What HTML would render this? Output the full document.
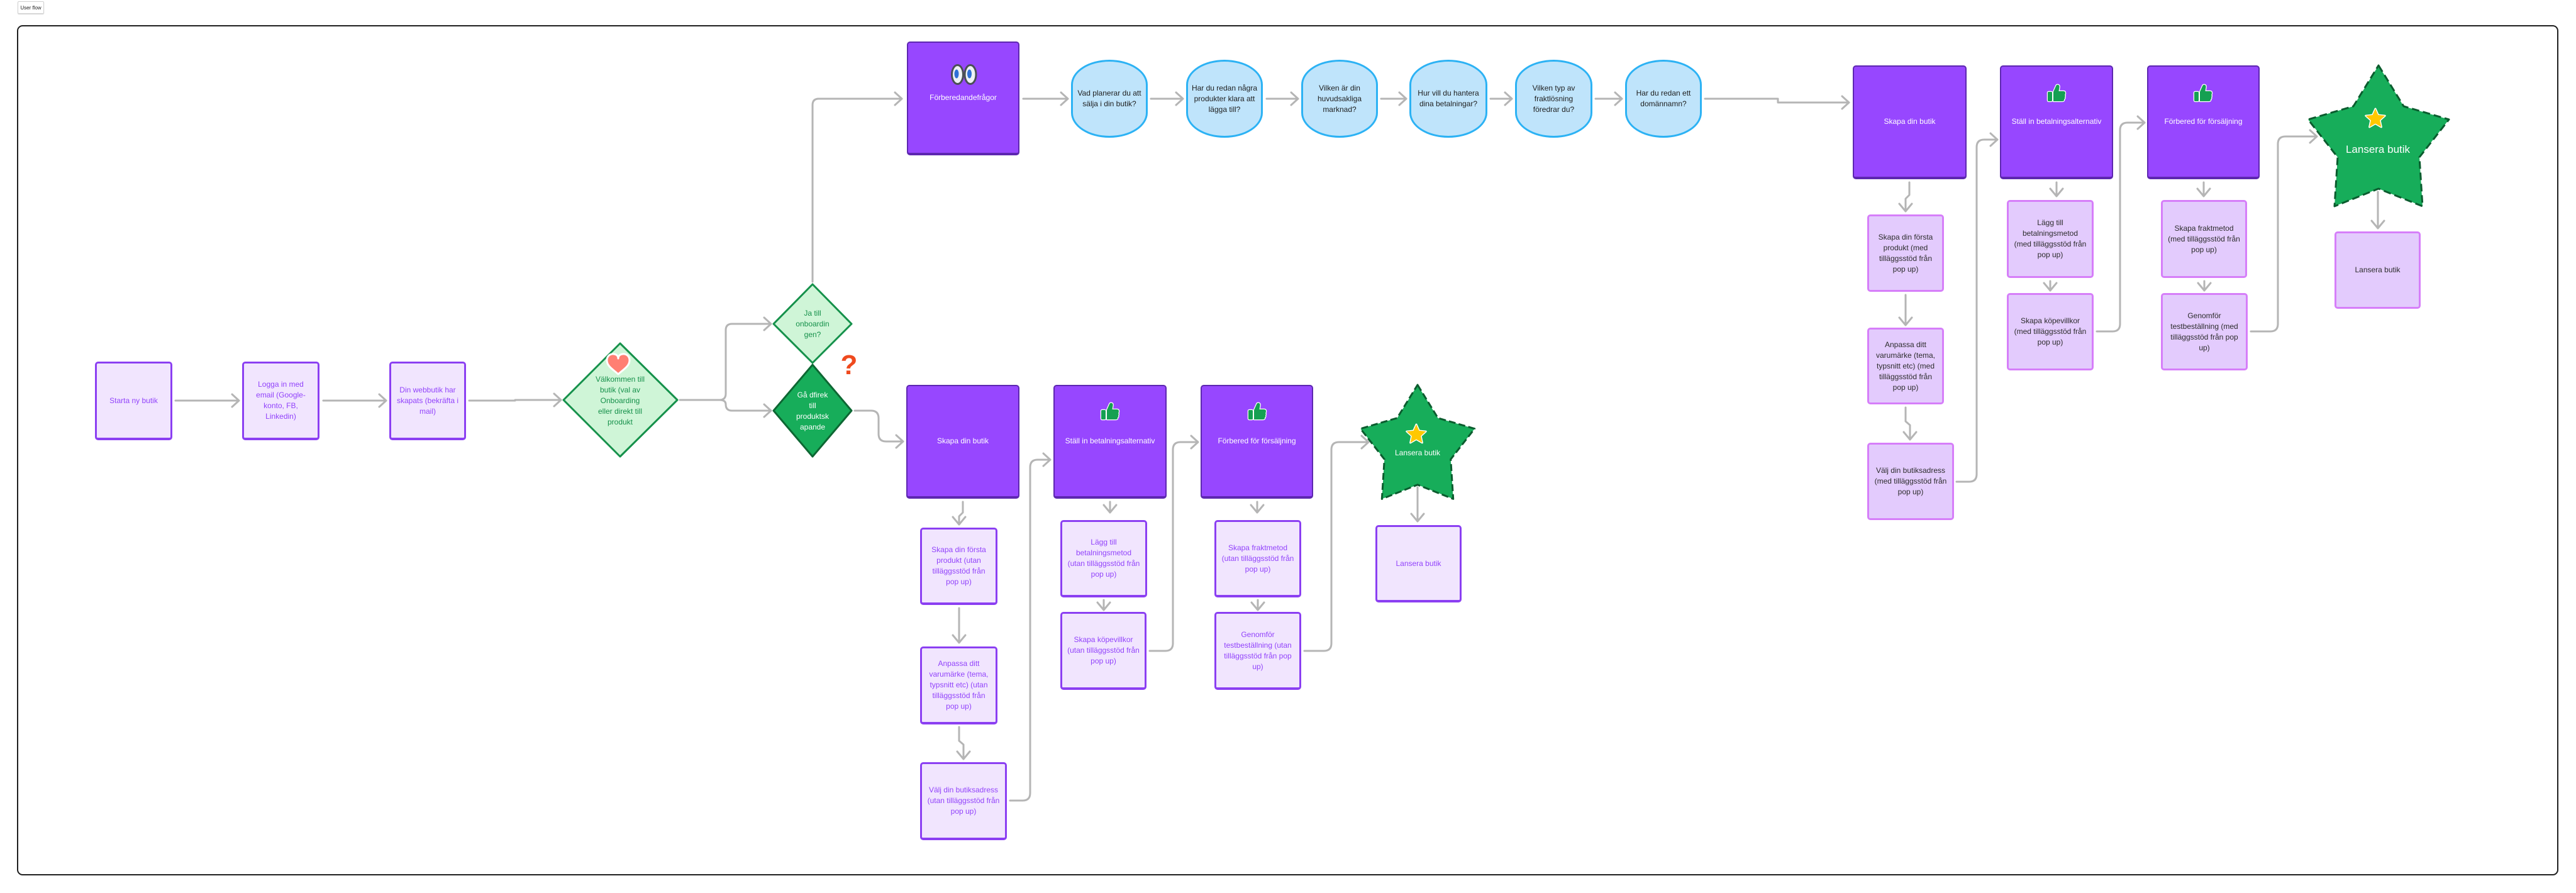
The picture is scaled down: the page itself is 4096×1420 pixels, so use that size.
<!DOCTYPE html>
<html><head><meta charset="utf-8">
<style>
html,body{margin:0;padding:0;background:#fff;}
body{width:4096px;height:1420px;position:relative;overflow:hidden;font-family:"Liberation Sans",sans-serif;}
svg{position:absolute;left:0;top:0;}
.n{position:absolute;box-sizing:border-box;display:flex;align-items:center;justify-content:center;text-align:center;font-size:12px;line-height:17px;}
.lp{background:#f1e5fe;border:3px solid #8b3ff2;border-bottom-width:4px;border-radius:5px;color:#9243fb;}
.dp{background:#9747ff;border:2px solid #5d27b0;border-bottom-width:4px;border-radius:5px;color:#fff;}
.pk{background:#e3cbfd;border:3px solid #d67ef9;border-radius:5px;color:#2c2c2c;}
.bb{background:#bfe4fb;border:3px solid #2cb2f4;border-radius:50%/32%;color:#1e1e1e;}
.t{position:absolute;display:flex;align-items:center;justify-content:center;text-align:center;font-size:12px;line-height:17px;}
.lbl{position:absolute;left:28px;top:2px;width:42px;height:20px;box-sizing:border-box;border:1px solid #d0d0d0;border-radius:2px;font-size:8px;display:flex;align-items:center;justify-content:center;color:#222;box-shadow:0 1px 1px rgba(0,0,0,.15);}
</style></head>
<body>
<div class="lbl">User flow</div>
<svg width="4096" height="1420" viewBox="0 0 4096 1420" xmlns="http://www.w3.org/2000/svg">
<rect x="28" y="41" width="4039" height="1350" rx="8" fill="none" stroke="#1e1e1e" stroke-width="2"/>

<!-- connectors -->
<g fill="none" stroke="#b5b5b5" stroke-width="3" stroke-linecap="round" stroke-linejoin="round">
<path d="M279,637 H380 M369,627 L380,637 L369,647"/>
<path d="M514,637 H614 M603,627 L614,637 L603,647"/>
<path d="M746,637 H819 V636 H892 M881,626 L892,636 L881,646"/>
<path d="M1081,636 H1144 Q1154,636 1154,626 V525 Q1154,515 1164,515 H1226 M1215,505 L1226,515 L1215,525"/>
<path d="M1144,636 Q1154,636 1154,643 Q1154,653 1164,653 H1226 M1215,643 L1226,653 L1215,663"/>
<path d="M1292,448 V167 Q1292,157 1302,157 H1434 M1423,147 L1434,157 L1423,167"/>
<path d="M1359,653 H1385 Q1397,653 1397,665 V690 Q1397,702 1409,702 H1436 M1425,692 L1436,702 L1425,712"/>
<path d="M1627,157 H1698 M1687,147 L1698,157 L1687,167"/>
<path d="M1830,157 H1881 M1870,147 L1881,157 L1870,167"/>
<path d="M2014,157 H2064 M2053,147 L2064,157 L2053,167"/>
<path d="M2196,157 H2236 M2225,147 L2236,157 L2225,167"/>
<path d="M2370,157 H2404 M2393,147 L2404,157 L2393,167"/>
<path d="M2537,157 H2579 M2568,147 L2579,157 L2568,167"/>
<path d="M2711,157 H2827 V163 H2940 M2929,153 L2940,163 L2929,173"/>
<path d="M3036,290 V310 L3030,316 V336 M3020,324 L3030,336 L3040,324"/>
<path d="M3030,469 V517 M3020,505 L3030,517 L3040,505"/>
<path d="M3030,648 V670 L3037,676 V699 M3027,687 L3037,699 L3047,687"/>
<path d="M3270,290 V312 M3260,300 L3270,312 L3280,300"/>
<path d="M3260,447 V462 M3250,450 L3260,462 L3270,450"/>
<path d="M3504,290 V312 M3494,300 L3504,312 L3514,300"/>
<path d="M3505,447 V462 M3495,450 L3505,462 L3515,450"/>
<path d="M3781,305 V363 M3771,351 L3781,363 L3791,351"/>
<path d="M3111,766 H3131 Q3143,766 3143,754 V234 Q3143,222 3155,222 H3176 M3165,212 L3176,222 L3165,232"/>
<path d="M3334,527 H3359 Q3371,527 3371,515 V207 Q3371,195 3383,195 H3410 M3399,185 L3410,195 L3399,205"/>
<path d="M3579,527 H3610 Q3622,527 3622,515 V229 Q3622,217 3634,217 H3684 M3673,207 L3684,217 L3673,227"/>
<path d="M1531,798 V815 L1525,821 V834 M1515,822 L1525,834 L1535,822"/>
<path d="M1525,967 V1022 M1515,1010 L1525,1022 L1535,1010"/>
<path d="M1525,1156 V1178 L1532,1184 V1207 M1522,1195 L1532,1207 L1542,1195"/>
<path d="M1765,798 V815 M1755,803 L1765,815 L1775,803"/>
<path d="M1755,954 V970 M1745,958 L1755,970 L1765,958"/>
<path d="M1999,798 V815 M1989,803 L1999,815 L2009,803"/>
<path d="M2000,954 V970 M1990,958 L2000,970 L2010,958"/>
<path d="M2254,775 V829 M2244,817 L2254,829 L2264,817"/>
<path d="M1606,1273 H1626 Q1638,1273 1638,1261 V743 Q1638,731 1650,731 H1670 M1659,721 L1670,731 L1659,741"/>
<path d="M1828,1035 H1853 Q1865,1035 1865,1023 V715 Q1865,703 1877,703 H1905 M1894,693 L1905,703 L1894,713"/>
<path d="M2074,1035 H2105 Q2117,1035 2117,1023 V715 Q2117,703 2129,703 H2176 M2165,693 L2176,703 L2165,713"/>
</g>

<!-- diamonds -->
<polygon points="986,546 1077,636 986,726 896,636" fill="#cff5d7" stroke="#15914b" stroke-width="3" stroke-linejoin="round"/>
<polygon points="1292,452 1354,515 1292,577 1230,515" fill="#cff5d7" stroke="#15914b" stroke-width="3" stroke-linejoin="round"/>
<polygon points="1292,580 1354,653 1292,726 1230,653" fill="#17ad5a" stroke="#0d6733" stroke-width="3" stroke-linejoin="round"/>

<!-- stars -->
<polygon points="3782,104 3822,169 3894,190 3847,250 3852,328 3782,300 3712,328 3717,250 3670,190 3742,169" fill="#17ad5a" stroke="#0b5c2e" stroke-width="3" stroke-dasharray="12 6" stroke-linejoin="round"/>
<polygon points="2254,612 2286.4,664.7 2344.7,681.7 2306.7,730.3 2310.7,793.4 2254,770.8 2197.3,793.4 2201.3,730.3 2163.3,681.7 2221.6,664.7" fill="#17ad5a" stroke="#0b5c2e" stroke-width="3" stroke-dasharray="11 5" stroke-linejoin="round"/>

<!-- heart -->
<path transform="translate(983,578)" d="M0,-8 C0,-18 -18,-18 -18,-5 C-18,5 -6,11 0,17 C6,11 18,5 18,-5 C18,-18 0,-18 0,-8Z" fill="#ff7f73" stroke="#fff" stroke-width="3" stroke-linejoin="round"/>
<!-- question mark -->
<text x="1350" y="595" text-anchor="middle" font-family="Liberation Sans, sans-serif" font-weight="bold" font-size="44" fill="#ef4a1e" stroke="#fff" stroke-width="3" paint-order="stroke" stroke-linejoin="round">?</text>

<!-- star emojis -->
<polygon transform="translate(3777,189)" points="0,-16 4.41,-6.07 15.22,-4.94 7.13,2.32 9.4,12.94 0,7.5 -9.4,12.94 -7.13,2.32 -15.22,-4.94 -4.41,-6.07" fill="#ffc800" stroke="#fff" stroke-width="3" stroke-linejoin="round" paint-order="stroke"/>
<polygon transform="translate(2252,691)" points="0,-16 4.41,-6.07 15.22,-4.94 7.13,2.32 9.4,12.94 0,7.5 -9.4,12.94 -7.13,2.32 -15.22,-4.94 -4.41,-6.07" fill="#ffc800" stroke="#fff" stroke-width="3" stroke-linejoin="round" paint-order="stroke"/>
</svg>

<!-- Row 1 -->
<div class="n lp" style="left:151px;top:575px;width:123px;height:125px;">Starta ny butik</div>
<div class="n lp" style="left:385px;top:575px;width:123px;height:125px;">Logga in med<br>email (Google-<br>konto, FB,<br>Linkedin)</div>
<div class="n lp" style="left:619px;top:575px;width:122px;height:125px;">Din webbutik har<br>skapats (bekräfta i<br>mail)</div>

<div class="t" style="left:906px;top:594px;width:160px;height:86px;color:#15904a;">Välkommen till<br>butik (val av<br>Onboarding<br>eller direkt till<br>produkt</div>
<div class="t" style="left:1242px;top:489px;width:100px;height:52px;color:#15904a;">Ja till<br>onboardin<br>gen?</div>
<div class="t" style="left:1242px;top:619px;width:100px;height:70px;color:#fff;">Gå dfirek<br>till<br>produktsk<br>apande</div>

<!-- Top row -->
<div class="n dp" style="left:1442px;top:66px;width:179px;height:181px;">Förberedandefrågor</div>
<div class="n bb" style="left:1703px;top:95px;width:122px;height:124px;">Vad planerar du att<br>sälja i din butik?</div>
<div class="n bb" style="left:1886px;top:95px;width:122px;height:124px;">Har du redan några<br>produkter klara att<br>lägga till?</div>
<div class="n bb" style="left:2069px;top:95px;width:122px;height:124px;">Vilken är din<br>huvudsakliga<br>marknad?</div>
<div class="n bb" style="left:2241px;top:95px;width:124px;height:124px;">Hur vill du hantera<br>dina betalningar?</div>
<div class="n bb" style="left:2409px;top:95px;width:123px;height:124px;">Vilken typ av<br>fraktlösning<br>föredrar du?</div>
<div class="n bb" style="left:2584px;top:95px;width:122px;height:124px;">Har du redan ett<br>domännamn?</div>

<!-- Top right -->
<div class="n dp" style="left:2946px;top:104px;width:181px;height:181px;">Skapa din butik</div>
<div class="n dp" style="left:3180px;top:104px;width:180px;height:181px;">Ställ in betalningsalternativ</div>
<div class="n dp" style="left:3414px;top:104px;width:179px;height:181px;">Förbered för försäljning</div>
<div class="t" style="left:3700px;top:226px;width:162px;height:24px;color:#fff;font-size:17px;line-height:22px;">Lansera butik</div>

<div class="n pk" style="left:2969px;top:341px;width:122px;height:123px;">Skapa din första<br>produkt (med<br>tilläggsstöd från<br>pop up)</div>
<div class="n pk" style="left:2969px;top:521px;width:122px;height:122px;">Anpassa ditt<br>varumärke (tema,<br>typsnitt etc) (med<br>tilläggsstöd från<br>pop up)</div>
<div class="n pk" style="left:2969px;top:704px;width:138px;height:123px;">Välj din butiksadress<br>(med tilläggsstöd från<br>pop up)</div>
<div class="n pk" style="left:3191px;top:318px;width:138px;height:124px;">Lägg till<br>betalningsmetod<br>(med tilläggsstöd från<br>pop up)</div>
<div class="n pk" style="left:3191px;top:466px;width:138px;height:123px;">Skapa köpevillkor<br>(med tilläggsstöd från<br>pop up)</div>
<div class="n pk" style="left:3436px;top:318px;width:137px;height:124px;">Skapa fraktmetod<br>(med tilläggsstöd från<br>pop up)</div>
<div class="n pk" style="left:3436px;top:466px;width:138px;height:123px;">Genomför<br>testbeställning (med<br>tilläggsstöd från pop<br>up)</div>
<div class="n pk" style="left:3712px;top:368px;width:137px;height:123px;">Lansera butik</div>

<!-- Lower section -->
<div class="n dp" style="left:1441px;top:612px;width:180px;height:181px;">Skapa din butik</div>
<div class="n dp" style="left:1675px;top:612px;width:180px;height:181px;">Ställ in betalningsalternativ</div>
<div class="n dp" style="left:1909px;top:612px;width:179px;height:181px;">Förbered för försäljning</div>
<div class="t" style="left:2194px;top:711px;width:120px;height:18px;color:#fff;">Lansera butik</div>

<div class="n lp" style="left:1463px;top:839px;width:123px;height:123px;">Skapa din första<br>produkt (utan<br>tilläggsstöd från<br>pop up)</div>
<div class="n lp" style="left:1463px;top:1028px;width:123px;height:124px;">Anpassa ditt<br>varumärke (tema,<br>typsnitt etc) (utan<br>tilläggsstöd från<br>pop up)</div>
<div class="n lp" style="left:1463px;top:1212px;width:138px;height:124px;">Välj din butiksadress<br>(utan tilläggsstöd från<br>pop up)</div>
<div class="n lp" style="left:1686px;top:827px;width:138px;height:123px;">Lägg till<br>betalningsmetod<br>(utan tilläggsstöd från<br>pop up)</div>
<div class="n lp" style="left:1686px;top:973px;width:137px;height:124px;">Skapa köpevillkor<br>(utan tilläggsstöd från<br>pop up)</div>
<div class="n lp" style="left:1931px;top:827px;width:138px;height:123px;">Skapa fraktmetod<br>(utan tilläggsstöd från<br>pop up)</div>
<div class="n lp" style="left:1931px;top:973px;width:138px;height:124px;">Genomför<br>testbeställning (utan<br>tilläggsstöd från pop<br>up)</div>
<div class="n lp" style="left:2187px;top:835px;width:137px;height:123px;">Lansera butik</div>

<!-- icons on top -->
<svg width="4096" height="1420" viewBox="0 0 4096 1420" xmlns="http://www.w3.org/2000/svg">
<defs>
<g id="thumb">
<rect x="1" y="13" width="7" height="15" rx="1.5" fill="#16a052" stroke="#fff" stroke-width="2.5" paint-order="stroke"/>
<path d="M10,13 L14,4 Q15,1 18,2 Q20,3 19.5,6 L18.5,12 H26 Q29,12 29,15 Q29,17 28,18 Q29.5,19.5 28,21.5 Q29,23.5 27,25 Q27.5,28 24,28 H10 Z" fill="#16a052" stroke="#fff" stroke-width="2.5" paint-order="stroke" stroke-linejoin="round"/>
</g>
</defs>
<g>
<ellipse cx="1522.5" cy="118.5" rx="9" ry="15" fill="#eef1f5" stroke="#4a4f55" stroke-width="3"/>
<ellipse cx="1543" cy="118.5" rx="9" ry="15" fill="#eef1f5" stroke="#4a4f55" stroke-width="3"/>
<ellipse cx="1521" cy="117.5" rx="3.5" ry="7" fill="#2f6fd6"/>
<ellipse cx="1541.5" cy="117.5" rx="3.5" ry="7" fill="#2f6fd6"/>
</g>
<use href="#thumb" x="1750" y="639"/>
<use href="#thumb" x="1984" y="639"/>
<use href="#thumb" x="3255" y="133"/>
<use href="#thumb" x="3488" y="133"/>
</svg>
</body></html>
